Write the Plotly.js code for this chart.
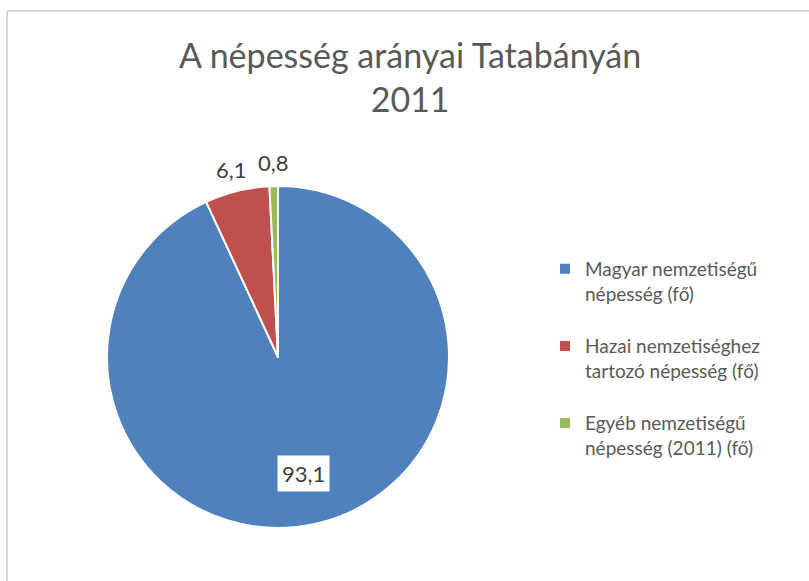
<!DOCTYPE html>
<html>
<head>
<meta charset="utf-8">
<script src="https://cdn.plot.ly/plotly-3.0.1.min.js"></script>
<style>html,body{margin:0;padding:0;background:#fff;}#chart{width:809px;height:581px;}</style>
</head>
<body>
<div id="chart"></div>
<script>
const labels = ["Magyar nemzetiségű<br>népesség (fő)<br> ", "Hazai nemzetiséghez<br>tartozó népesség (fő)<br> ", "Egyéb nemzetiségű<br>népesség (2011) (fő)<br> "];
const values = [93.1, 6.1, 0.8];
const valueText = ["93,1", "6,1", "0,8"];
const colors = ["#4F81BD", "#C0504D", "#9BBB59"];

const W = 809, H = 581;
const cxPx = 278, cyPx = 357, Rpx = 171;
const dom = {
  x: [(cxPx - Rpx) / W, (cxPx + Rpx) / W],
  y: [1 - (cyPx + Rpx) / H, 1 - (cyPx - Rpx) / H]
};

// data labels positioned along each slice's mid angle
const total = values.reduce((a, b) => a + b, 0);
const radial = [0.70, 1.13, 1.14];
let cum = 0;
const anns = values.map((v, i) => {
  const mid = (cum + v / 2) / total;
  cum += v;
  const th = 2 * Math.PI * mid;
  const px = cxPx + radial[i] * Rpx * Math.sin(th);
  const py = cyPx - radial[i] * Rpx * Math.cos(th);
  const inside = radial[i] < 1;
  return {
    xref: 'paper', yref: 'paper', x: px / W, y: 1 - py / H,
    xanchor: 'center', yanchor: 'middle',
    text: valueText[i], showarrow: false,
    font: {family: 'Lato, sans-serif', size: 22, color: '#404040'},
    bgcolor: inside ? '#FFFFFF' : 'rgba(0,0,0,0)',
    borderpad: inside ? 4 : 0
  };
});

const trace = {
  type: 'pie',
  labels: labels,
  values: values,
  sort: false,
  direction: 'clockwise',
  rotation: 0,
  textinfo: 'none',
  hoverinfo: 'label+value',
  marker: {colors: colors, line: {color: '#FFFFFF', width: 2}},
  domain: dom
};

const layout = {
  width: W, height: H,
  margin: {l: 0, r: 0, t: 0, b: 0},
  paper_bgcolor: '#FFFFFF',
  separators: ', ',
  title: {
    text: 'A népesség arányai Tatabányán<br>2011',
    font: {family: 'Lato, sans-serif', size: 34, color: '#595959'},
    x: 0.507, xanchor: 'center', y: 1 - 68 / H, yanchor: 'top'
  },
  showlegend: true,
  legend: {
    x: 545 / W, xanchor: 'left', y: 1 - 250 / H, yanchor: 'top',
    font: {family: 'Lato, sans-serif', size: 19, color: '#595959'},
    valign: 'top', bgcolor: 'rgba(0,0,0,0)'
  },
  annotations: anns,
  shapes: [
    {type: 'line', xref: 'paper', yref: 'paper', x0: 7 / W, x1: 7 / W, y0: 0, y1: 1 - 11 / H, line: {color: '#D9D9D9', width: 2}},
    {type: 'line', xref: 'paper', yref: 'paper', x0: 7 / W, x1: 1, y0: 1 - 11 / H, y1: 1 - 11 / H, line: {color: '#D9D9D9', width: 2}}
  ]
};

Plotly.newPlot('chart', [trace], layout, {displayModeBar: false, staticPlot: true});
</script>
</body>
</html>
